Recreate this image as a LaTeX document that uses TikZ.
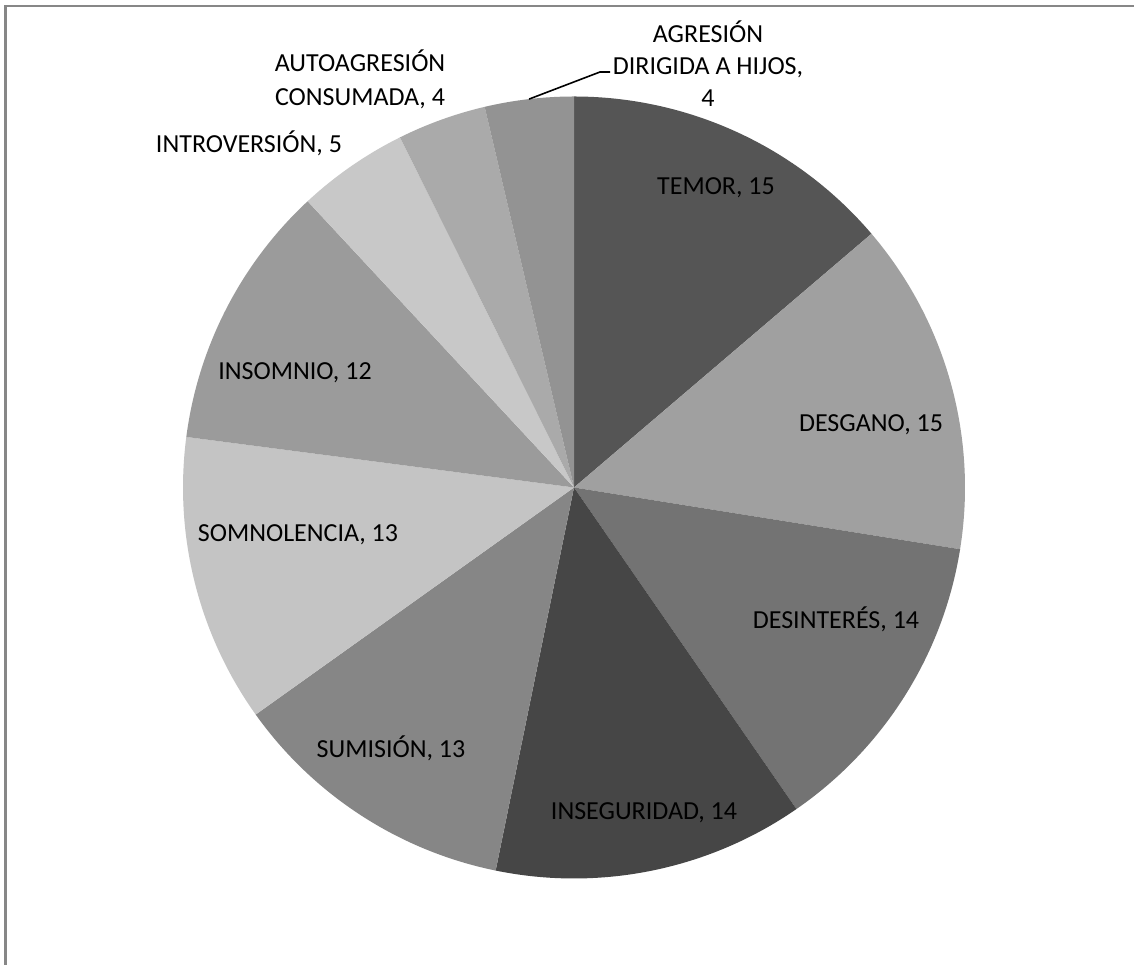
\documentclass[tikz,border=0pt]{standalone}
\usepackage{fontspec}
\usetikzlibrary{calc}
\setmainfont{Carlito}
\definecolor{framegray}{HTML}{878787}
\definecolor{sTemor}{HTML}{555555}
\definecolor{sDesgano}{HTML}{A0A0A0}
\definecolor{sDesinteres}{HTML}{737373}
\definecolor{sInseguridad}{HTML}{464646}
\definecolor{sSumision}{HTML}{868686}
\definecolor{sSomnolencia}{HTML}{C4C4C4}
\definecolor{sInsomnio}{HTML}{9B9B9B}
\definecolor{sIntroversion}{HTML}{C8C8C8}
\definecolor{sAuto}{HTML}{AAAAAA}
\definecolor{sAgresion}{HTML}{939393}
\begin{document}
\begin{tikzpicture}[x=1pt,y=1pt,
  lbl/.style={font=\fontsize{26}{32}\selectfont, inner sep=0pt, anchor=base, text=black},
  leader/.style={draw=black, line width=1.6pt}]
\useasboundingbox (0,0) rectangle (1134,965);
\fill[white] (0,0) rectangle (1134,965);
\draw[line width=2.5pt, framegray] (5.5,-5) -- (5.5,959) -- (1140,959);
\coordinate (O) at (574,477.5);
\def\R{391}
% slices (clockwise from top)
\fill[sTemor]        (O) -- ++(90:\R)      arc[start angle=90,      end angle=40.46,   radius=\R] -- cycle;
\fill[sDesgano]      (O) -- ++(40.46:\R)   arc[start angle=40.46,   end angle=-9.08,   radius=\R] -- cycle;
\fill[sDesinteres]   (O) -- ++(-9.08:\R)   arc[start angle=-9.08,   end angle=-55.32,  radius=\R] -- cycle;
\fill[sInseguridad]  (O) -- ++(-55.32:\R)  arc[start angle=-55.32,  end angle=-101.56, radius=\R] -- cycle;
\fill[sSumision]     (O) -- ++(-101.56:\R) arc[start angle=-101.56, end angle=-144.50, radius=\R] -- cycle;
\fill[sSomnolencia]  (O) -- ++(-144.50:\R) arc[start angle=-144.50, end angle=-187.43, radius=\R] -- cycle;
\fill[sInsomnio]     (O) -- ++(-187.43:\R) arc[start angle=-187.43, end angle=-227.06, radius=\R] -- cycle;
\fill[sIntroversion] (O) -- ++(-227.06:\R) arc[start angle=-227.06, end angle=-243.58, radius=\R] -- cycle;
\fill[sAuto]         (O) -- ++(-243.58:\R) arc[start angle=-243.58, end angle=-256.79, radius=\R] -- cycle;
\fill[sAgresion]     (O) -- ++(-256.79:\R) arc[start angle=-256.79, end angle=-270,    radius=\R] -- cycle;
% labels
\node[lbl] (temor) at (716,770) {TEMOR, 15};
\node[lbl] (desgano) at (871,533) {DESGANO, 15};
\node[lbl] (desinteres) at (836,336) {DESINTERÉS, 14};
\node[lbl] (inseguridad) at (644,145) {INSEGURIDAD, 14};
\node[lbl] (sumision) at (391,207) {SUMISIÓN, 13};
\node[lbl] (somnolencia) at (298,423) {SOMNOLENCIA, 13};
\node[lbl] (insomnio) at (295,585) {INSOMNIO, 12};
\node[lbl] (introversion) at (249,812) {INTROVERSIÓN, 5};
\node[lbl] (autoA) at (360,893) {AUTOAGRESIÓN};
\node[lbl] (autoB) at (360,859) {CONSUMADA, 4};
\node[lbl] (agrA) at (708,922) {AGRESIÓN};
\node[lbl] (agrB) at (708,890) {DIRIGIDA A HIJOS,};
\node[lbl] (agrC) at (708,858) {4};
% leader line
\coordinate (agrEdge) at ($(O)+(96.6:\R)$);
\coordinate (agrBend) at (600,893);
\coordinate (agrEnd) at (610,893);
\draw[leader] (agrEdge) -- (agrBend) -- (agrEnd);
\end{tikzpicture}
\end{document}
